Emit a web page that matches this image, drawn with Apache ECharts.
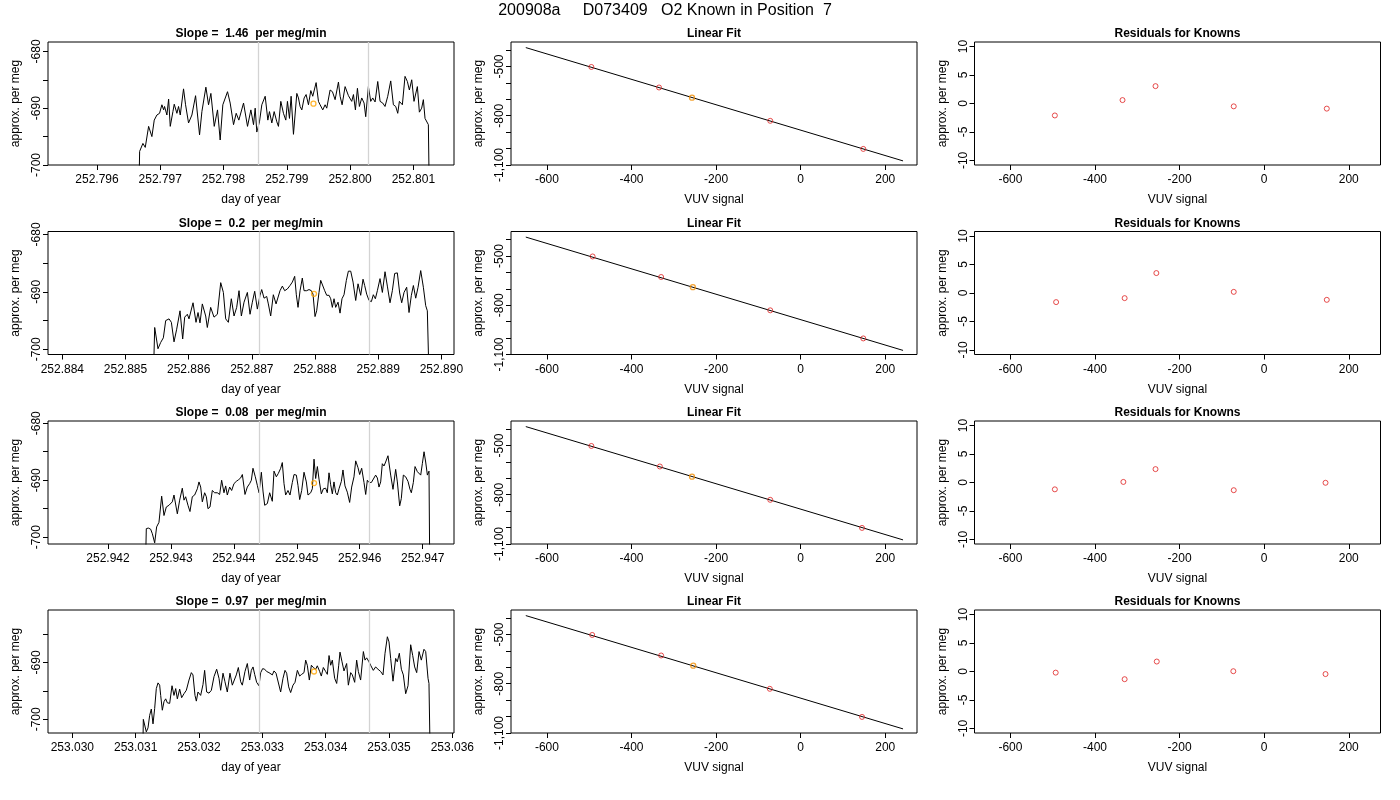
<!DOCTYPE html>
<html>
<head>
<meta charset="utf-8">
<title>200908a D073409 O2 Known in Position 7</title>
<script src="https://cdn.jsdelivr.net/npm/echarts@6/dist/echarts.min.js"></script>
<style>
  html, body { margin: 0; padding: 0; background: #fff; }
  #chart { width: 1400px; height: 800px; }
</style>
</head>
<body>
<div id="chart"></div>
<script>
// Time of the first day-of-year tick in each row; traces are stored as
// [offset from that day in millionths of a day, approx. per meg]
var rowStartDay = [252.796, 252.884, 252.942, 253.030];
var rowSlope = ['1.46', '0.2', '0.08', '0.97'];

var trace1 = [
  [647,-715],[674,-697.6],[726,-696.2],[763,-696.9],[816,-693.2],[868,-695.0],[905,-692.1],[947,-691.2],
  [989,-690.9],[1026,-689.4],[1053,-690.3],[1068,-689.7],[1105,-691.2],[1132,-688.4],[1158,-693.2],[1200,-690.6],
  [1221,-689.3],[1263,-690.9],[1289,-689.7],[1316,-691.2],[1368,-686.6],[1400,-689.4],[1447,-692.6],[1500,-691.2],
  [1558,-687.8],[1621,-694.7],[1658,-690.6],[1721,-686.3],[1763,-689.4],[1800,-687.4],[1853,-693.2],[1905,-690.3],
  [1947,-695.6],[1989,-689.4],[2063,-687.1],[2105,-689.1],[2158,-692.9],[2200,-690.9],[2242,-692.1],[2316,-689.1],
  [2379,-693.2],[2432,-690.3],[2474,-692.9],[2500,-690.0],[2526,-694.2],[2568,-692.4],[2605,-689.4],[2658,-687.9],
  [2700,-692.1],[2726,-690.6],[2763,-692.6],[2800,-690.6],[2842,-692.4],[2868,-693.2],[2905,-688.8],[2947,-690.9],
  [2984,-692.1],[3010,-688.8],[3042,-691.8],[3068,-687.9],[3105,-694.6],[3158,-687.4],[3184,-688.2],[3210,-689.7],
  [3237,-690.3],[3274,-688.2],[3305,-687.6],[3342,-689.4],[3379,-686.9],[3410,-687.9],[3463,-685.5],[3500,-688.8],
  [3526,-689.4],[3568,-690.3],[3605,-689.4],[3631,-690.0],[3684,-686.8],[3721,-687.1],[3763,-688.5],[3816,-685.4],
  [3842,-687.9],[3874,-689.4],[3921,-686.2],[3974,-687.8],[4026,-688.8],[4053,-687.6],[4084,-690.3],[4116,-686.5],
  [4147,-689.7],[4184,-688.2],[4221,-689.1],[4247,-691.5],[4289,-686.2],[4326,-688.8],[4358,-688.2],[4395,-688.9],
  [4437,-685.3],[4474,-688.8],[4516,-689.1],[4552,-689.7],[4595,-687.9],[4642,-685.2],[4684,-689.4],[4721,-689.7],
  [4753,-690.9],[4779,-688.8],[4826,-689.4],[4868,-684.4],[4905,-685.3],[4937,-686.8],[4974,-685.0],[5010,-688.8],
  [5063,-686.2],[5095,-690.7],[5131,-690.0],[5158,-688.5],[5184,-691.8],[5210,-692.1],[5237,-692.9],[5263,-715]
];
var trace2 = [
  [1425,-712],[1462,-696.2],[1514,-699.9],[1557,-698.8],[1599,-698.0],[1636,-695.0],[1689,-694.7],[1726,-695.3],
  [1768,-698.7],[1810,-696.5],[1863,-693.3],[1905,-698.2],[1937,-694.4],[1979,-693.9],[2005,-694.7],[2069,-691.9],
  [2116,-695.3],[2148,-693.6],[2179,-695.4],[2216,-692.1],[2269,-694.2],[2295,-696.2],[2348,-692.7],[2401,-694.4],
  [2427,-694.2],[2454,-693.9],[2507,-688.4],[2549,-690.1],[2586,-694.7],[2628,-695.3],[2675,-691.2],[2718,-694.2],
  [2760,-692.7],[2797,-689.8],[2834,-694.2],[2876,-691.8],[2929,-690.1],[2971,-693.9],[3008,-691.8],[3045,-689.9],
  [3087,-693.0],[3129,-690.6],[3156,-689.6],[3193,-691.1],[3235,-690.8],[3261,-692.1],[3298,-694.2],[3340,-690.5],
  [3383,-692.1],[3414,-692.1],[3446,-689.8],[3483,-689.0],[3520,-689.8],[3562,-689.5],[3604,-688.9],[3641,-688.3],
  [3678,-687.3],[3704,-690.5],[3731,-692.7],[3763,-689.8],[3799,-687.6],[3826,-689.8],[3868,-689.8],[3905,-689.6],
  [3942,-689.8],[3968,-690.4],[4000,-694.3],[4026,-693.3],[4063,-690.1],[4090,-688.0],[4116,-688.3],[4153,-689.8],
  [4185,-690.6],[4222,-690.6],[4248,-691.2],[4274,-692.7],[4301,-691.2],[4327,-692.7],[4364,-691.8],[4396,-693.7],
  [4427,-691.2],[4459,-690.5],[4496,-688.0],[4528,-686.4],[4565,-686.4],[4602,-688.3],[4644,-691.5],[4681,-688.6],
  [4723,-690.6],[4760,-687.8],[4786,-688.9],[4818,-690.4],[4855,-691.5],[4892,-691.7],[4923,-690.5],[4955,-691.2],
  [4987,-689.8],[5029,-687.7],[5066,-690.1],[5108,-686.5],[5145,-689.0],[5187,-691.9],[5224,-689.8],[5261,-686.8],
  [5303,-686.7],[5340,-690.2],[5372,-691.9],[5409,-690.1],[5451,-689.2],[5488,-693.6],[5525,-690.6],[5557,-688.9],
  [5594,-691.1],[5631,-689.2],[5673,-686.3],[5715,-689.2],[5752,-692.4],[5778,-693.3],[5805,-693.1],[5821,-712]
];
var trace3 = [
  [583,-712],[609,-698.5],[641,-698.4],[678,-698.6],[705,-699.4],[742,-701.0],[773,-698.2],[810,-697.4],
  [853,-692.8],[890,-696.2],[927,-694.7],[969,-694.4],[996,-694.7],[1022,-693.8],[1049,-692.6],[1075,-692.9],
  [1102,-695.9],[1139,-693.5],[1181,-691.4],[1208,-693.5],[1234,-692.9],[1271,-694.4],[1303,-695.5],[1340,-692.9],
  [1377,-692.6],[1420,-691.5],[1446,-690.3],[1473,-691.2],[1499,-693.8],[1536,-692.2],[1563,-692.9],[1589,-695.0],
  [1621,-694.7],[1658,-691.8],[1695,-692.2],[1737,-692.2],[1774,-692.5],[1806,-690.0],[1843,-692.2],[1870,-691.0],
  [1896,-692.6],[1933,-691.2],[1965,-691.8],[2002,-690.6],[2039,-690.2],[2076,-689.9],[2108,-689.6],[2135,-689.0],
  [2177,-692.5],[2214,-691.2],[2251,-690.6],[2278,-690.0],[2304,-687.9],[2341,-689.4],[2373,-690.9],[2400,-692.2],
  [2437,-688.6],[2463,-691.9],[2490,-694.4],[2532,-694.1],[2569,-692.2],[2611,-693.7],[2638,-688.4],[2675,-689.4],
  [2707,-688.8],[2744,-687.9],[2770,-686.9],[2797,-690.6],[2823,-692.6],[2860,-691.8],[2892,-692.6],[2929,-690.4],
  [2956,-689.0],[2993,-689.1],[3019,-690.9],[3046,-693.4],[3078,-691.8],[3115,-688.6],[3152,-690.3],[3178,-692.6],
  [3221,-692.2],[3247,-691.5],[3274,-686.3],[3300,-689.7],[3327,-687.6],[3353,-689.8],[3390,-692.4],[3422,-691.5],
  [3459,-691.4],[3485,-692.2],[3512,-688.7],[3538,-690.8],[3565,-692.4],[3591,-690.3],[3618,-692.2],[3644,-692.6],
  [3671,-691.5],[3708,-690.2],[3734,-688.2],[3766,-691.0],[3803,-692.1],[3840,-693.9],[3872,-691.2],[3909,-689.4],
  [3936,-686.6],[3973,-687.8],[3999,-689.0],[4031,-687.9],[4068,-690.4],[4095,-692.5],[4121,-690.0],[4148,-690.4],
  [4185,-690.4],[4216,-690.6],[4253,-689.1],[4280,-689.6],[4306,-691.2],[4333,-690.3],[4359,-687.1],[4386,-687.5],
  [4412,-686.8],[4449,-685.7],[4492,-689.1],[4529,-691.6],[4571,-688.1],[4598,-690.3],[4635,-694.5],[4661,-693.2],
  [4693,-689.1],[4730,-689.4],[4767,-690.2],[4799,-691.6],[4820,-692.2],[4852,-690.4],[4879,-687.6],[4916,-688.5],
  [4942,-688.8],[4969,-689.1],[4995,-687.1],[5022,-685.0],[5048,-686.8],[5075,-689.1],[5101,-688.4],[5117,-712]
];
var trace4 = [
  [1105,-712],[1121,-700.0],[1142,-699.8],[1168,-702.2],[1195,-701.5],[1221,-699.3],[1247,-698.2],[1274,-700.8],
  [1300,-698.1],[1326,-694.6],[1353,-693.6],[1379,-694.0],[1395,-695.8],[1421,-698.4],[1447,-696.9],[1474,-696.4],
  [1500,-697.1],[1537,-697.2],[1574,-694.1],[1605,-695.8],[1632,-694.6],[1658,-696.4],[1695,-694.7],[1726,-696.2],
  [1763,-695.5],[1800,-694.9],[1842,-693.1],[1879,-691.8],[1905,-692.2],[1937,-695.8],[1958,-696.8],[1984,-695.2],
  [2026,-695.8],[2063,-693.9],[2089,-691.4],[2121,-695.2],[2158,-695.4],[2195,-694.9],[2237,-692.5],[2279,-691.2],
  [2316,-692.8],[2342,-694.9],[2379,-691.9],[2410,-693.4],[2447,-695.2],[2489,-691.9],[2526,-694.0],[2553,-693.7],
  [2589,-692.2],[2621,-690.9],[2658,-693.4],[2684,-694.0],[2726,-691.6],[2763,-690.2],[2800,-693.1],[2826,-691.4],
  [2853,-690.8],[2879,-692.1],[2910,-693.5],[2947,-694.1],[2974,-691.8],[3005,-691.1],[3037,-691.2],[3068,-691.6],
  [3105,-691.8],[3131,-691.5],[3158,-692.2],[3184,-691.5],[3216,-691.9],[3247,-691.9],[3289,-695.2],[3326,-692.8],
  [3358,-691.4],[3384,-691.9],[3416,-694.3],[3447,-695.3],[3484,-694.0],[3516,-693.5],[3553,-691.4],[3589,-692.4],
  [3621,-692.1],[3658,-691.8],[3684,-689.6],[3710,-690.5],[3742,-693.1],[3774,-690.5],[3805,-690.9],[3842,-691.2],
  [3868,-690.6],[3905,-691.6],[3931,-692.4],[3963,-690.9],[4000,-691.6],[4026,-692.1],[4053,-688.8],[4079,-690.5],
  [4105,-689.6],[4142,-692.8],[4174,-693.7],[4205,-690.6],[4226,-688.2],[4258,-689.9],[4289,-691.5],[4331,-690.2],
  [4358,-694.0],[4395,-691.8],[4421,-692.2],[4458,-693.5],[4489,-689.6],[4516,-691.6],[4552,-693.1],[4595,-688.1],
  [4621,-689.6],[4647,-689.2],[4679,-689.8],[4710,-690.5],[4752,-691.4],[4789,-690.8],[4826,-691.2],[4868,-691.6],
  [4905,-692.2],[4937,-688.4],[4974,-685.5],[5000,-686.4],[5026,-689.3],[5063,-693.3],[5105,-689.3],[5131,-689.9],
  [5163,-688.4],[5195,-691.2],[5226,-692.2],[5263,-695.5],[5300,-694.1],[5342,-686.9],[5374,-688.8],[5405,-690.8],
  [5437,-691.8],[5474,-688.1],[5510,-689.6],[5552,-687.7],[5579,-688.1],[5616,-692.8],[5631,-693.7],[5658,-712]
];
var traces = [trace1, trace2, trace3, trace4];

// grey markers and the orange mean point on each trace
var markerTimes = [[2553, 4289], [3113, 4855], [2400, 4148], [2947, 4684]];
var meanPoint = [[3421, -689.2], [3984, -690.35], [3274, -690.5], [3816, -691.6]];

var dayRange = [[-774, 5642], [-227, 6200], [-953, 5498], [-384, 6026]];
var perMegRange = [[-700, -678.35], [-700.9, -679.5], [-701.2, -679.6], [-702.4, -680.8]];
var dayTicks = [
  [0, 1000, 2000, 3000, 4000, 5000],
  [0, 1000, 2000, 3000, 4000, 5000, 6000],
  [0, 1000, 2000, 3000, 4000, 5000],
  [0, 1000, 2000, 3000, 4000, 5000, 6000]
];
var perMegTicks = [
  [-700, -695, -690, -685, -680],
  [-700, -695, -690, -685, -680],
  [-700, -695, -690, -685, -680],
  [-700, -695, -690, -685]
];
var perMegLabels = [[-700, -690, -680], [-700, -690, -680], [-700, -690, -680], [-700, -690]];

// knowns: VUV signal vs assigned per meg
var vuvRange = [-685, 275];
var vuvTicks = [-600, -400, -200, 0, 200];
var fitRange = [-1100, -351];
var fitTicks = [-1100, -1000, -900, -800, -700, -600, -500, -400];
var fitLabels = [-1100, -800, -500];
var residRange = [-10.8, 10.8];
var residTicks = [-10, -5, 0, 5, 10];

var knownVUV = [
  [-495, -335, -257, -72, 148],
  [-492, -330, -255, -72, 148],
  [-495, -333, -257, -72, 145],
  [-493, -330, -254, -73, 145]
];
var knownPerMeg = [-503, -628, -690, -831, -1002];
var refKnown = 2;
var fitVUV = [-650, 242];
var fitPerMeg = [-385, -1075];
var residuals = [
  [-2.1, 0.6, 3.05, -0.5, -0.9],
  [-1.6, -0.9, 3.5, 0.2, -1.2],
  [-1.2, 0.1, 2.35, -1.35, -0.05],
  [-0.2, -1.35, 1.75, 0.05, -0.45]
];

(function() {
  var font = "'Liberation Sans', Arial, Helvetica, sans-serif";
  var red = '#e02020';
  var orange = '#ffa500';
  var colLeft = [48, 511, 974.5];
  var colWidth = 406;
  var rowTop = [42, 231.5, 421, 610];
  var rowHeight = 123;

  var grids = [], xAxes = [], yAxes = [], titles = [], series = [];

  titles.push({
    text: '200908a     D073409   O2 Known in Position  7',
    left: 665, top: 3, padding: 0, textAlign: 'center',
    textStyle: { fontFamily: font, fontSize: 16, fontWeight: 'normal', color: '#000' }
  });

  function addPanel(r, c, title) {
    grids.push({
      left: colLeft[c], top: rowTop[r], width: colWidth, height: rowHeight,
      show: true, borderColor: '#000', borderWidth: 1, backgroundColor: 'transparent'
    });
    titles.push({
      text: title, left: colLeft[c] + colWidth / 2, top: rowTop[r] - 14, padding: 0, textAlign: 'center',
      textStyle: { fontFamily: font, fontSize: 12, fontWeight: 'bold', color: '#000' }
    });
    return grids.length - 1;
  }

  function xAxis(gi, range, ticks, fmt, name) {
    return {
      type: 'value', gridIndex: gi, min: range[0], max: range[1],
      axisLine: { show: false, onZero: false },
      axisTick: { show: true, length: 5, customValues: ticks, lineStyle: { color: '#000' } },
      axisLabel: { customValues: ticks, formatter: fmt, color: '#000', fontSize: 12, fontFamily: font, margin: 9 },
      splitLine: { show: false },
      name: name, nameLocation: 'middle', nameGap: 29,
      nameTextStyle: { color: '#000', fontSize: 12, fontFamily: font }
    };
  }

  function yAxis(gi, range, ticks, labels) {
    return {
      type: 'value', gridIndex: gi, min: range[0], max: range[1],
      axisLine: { show: false, onZero: false },
      axisTick: { show: true, length: 5, customValues: ticks, lineStyle: { color: '#000' } },
      axisLabel: { customValues: labels, rotate: 90, color: '#000', fontSize: 12, fontFamily: font, margin: 5 },
      splitLine: { show: false },
      name: 'approx. per meg', nameLocation: 'middle', nameGap: 26,
      nameTextStyle: { color: '#000', fontSize: 12, fontFamily: font }
    };
  }

  function hollow(color, width) {
    return { color: 'transparent', borderColor: color, borderWidth: width || 1 };
  }

  for (var r = 0; r < 4; r++) {
    (function(r) {
      var start = rowStartDay[r];
      var dayFmt = function(v) { return (start + v / 1e6).toFixed(3); };

      // day-of-year trace
      var g = addPanel(r, 0, 'Slope =  ' + rowSlope[r] + '  per meg/min');
      xAxes.push(xAxis(g, dayRange[r], dayTicks[r], dayFmt, 'day of year'));
      yAxes.push(yAxis(g, perMegRange[r], perMegTicks[r], perMegLabels[r]));
      series.push({
        type: 'line', xAxisIndex: g, yAxisIndex: g, data: [], silent: true, z: 1,
        markLine: {
          silent: true, symbol: ['none', 'none'], animation: false,
          label: { show: false },
          lineStyle: { color: '#d3d3d3', width: 1.3, type: 'solid' },
          data: markerTimes[r].map(function(t) { return { xAxis: t }; })
        }
      });
      series.push({
        type: 'line', xAxisIndex: g, yAxisIndex: g, data: traces[r], z: 3,
        showSymbol: false, symbol: 'none', clip: true,
        lineStyle: { color: '#000', width: 1 }
      });
      series.push({
        type: 'scatter', xAxisIndex: g, yAxisIndex: g, data: [meanPoint[r]], z: 4,
        symbol: 'circle', symbolSize: 5, itemStyle: hollow(orange, 1.3)
      });

      // linear fit of the knowns
      g = addPanel(r, 1, 'Linear Fit');
      xAxes.push(xAxis(g, vuvRange, vuvTicks, null, 'VUV signal'));
      yAxes.push(yAxis(g, fitRange, fitTicks, fitLabels));
      series.push({
        type: 'line', xAxisIndex: g, yAxisIndex: g, z: 2,
        data: fitVUV.map(function(x, i) { return [x, fitPerMeg[i]]; }),
        showSymbol: false, symbol: 'none', lineStyle: { color: '#000', width: 1 }
      });
      series.push({
        type: 'scatter', xAxisIndex: g, yAxisIndex: g, z: 3, symbol: 'circle', symbolSize: 5,
        itemStyle: hollow(red),
        data: knownVUV[r].map(function(x, i) { return [x, knownPerMeg[i]]; })
          .filter(function(d, i) { return i !== refKnown; })
      });
      series.push({
        type: 'scatter', xAxisIndex: g, yAxisIndex: g, z: 4, symbol: 'circle', symbolSize: 5,
        itemStyle: hollow('#f08c00', 1.3),
        data: [[knownVUV[r][refKnown], knownPerMeg[refKnown]]]
      });

      // residuals
      g = addPanel(r, 2, 'Residuals for Knowns');
      xAxes.push(xAxis(g, vuvRange, vuvTicks, null, 'VUV signal'));
      yAxes.push(yAxis(g, residRange, residTicks, residTicks));
      series.push({
        type: 'scatter', xAxisIndex: g, yAxisIndex: g, z: 3, symbol: 'circle', symbolSize: 5,
        itemStyle: hollow(red),
        data: knownVUV[r].map(function(x, i) { return [x, residuals[r][i]]; })
      });
    })(r);
  }

  var chart = echarts.init(document.getElementById('chart'));
  chart.setOption({
    animation: false,
    backgroundColor: '#fff',
    title: titles,
    grid: grids,
    xAxis: xAxes,
    yAxis: yAxes,
    series: series
  });
  window.addEventListener('resize', function() { chart.resize(); });
})();
</script>
</body>
</html>
